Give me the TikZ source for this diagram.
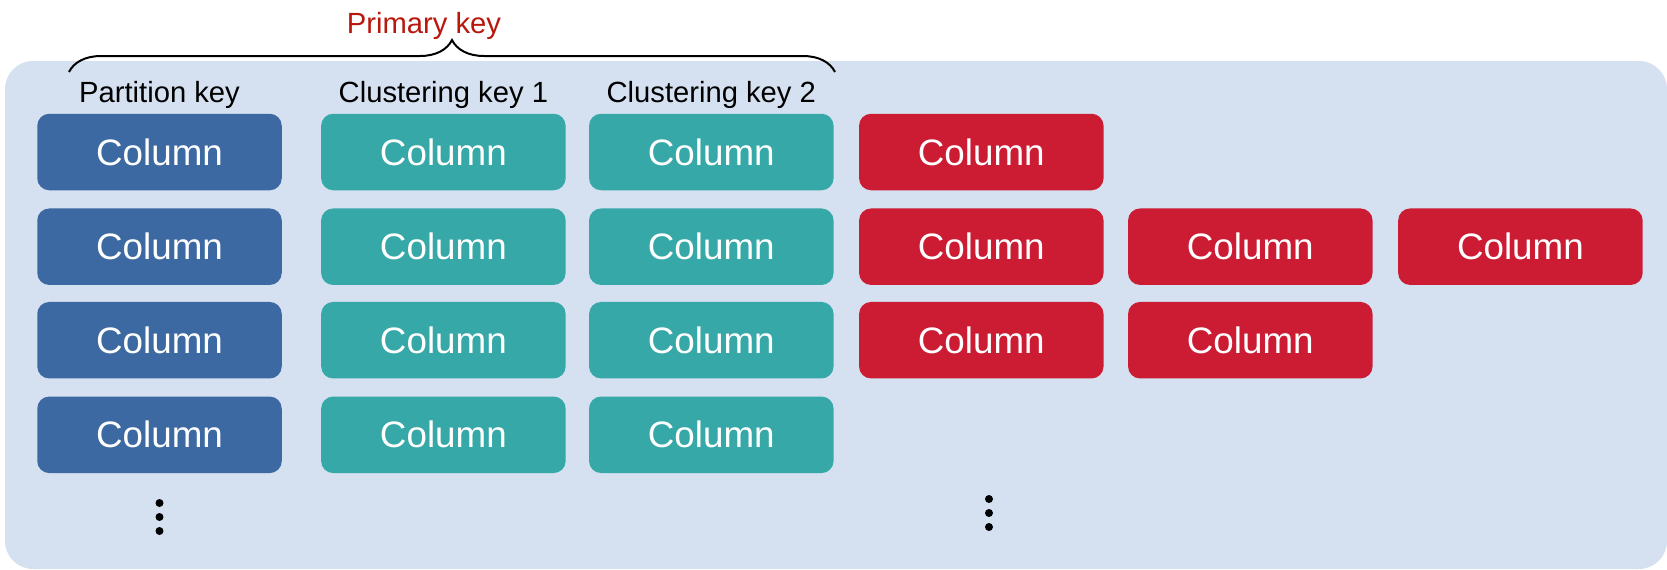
\documentclass[tikz,border=0pt]{standalone}
\usepackage{fontspec}
\setmainfont{Liberation Sans}
\usetikzlibrary{decorations.pathreplacing}
\definecolor{panelblue}{HTML}{D5E1F0}
\definecolor{partblue}{HTML}{3C69A1}
\definecolor{clustteal}{HTML}{37A8A8}
\definecolor{regred}{HTML}{CC1C34}
\definecolor{keyred}{HTML}{B8170D}

\begin{document}
\begin{tikzpicture}[x=0.5pt, y=-0.5pt,
  col/.style = {shape=rectangle, rounded corners=6pt, text=white,
    minimum width=122.25pt, minimum height=38.25pt, inner sep=0pt,
    font=\fontsize{18.4}{22}\selectfont},
  partcol/.style = {col, fill=partblue},
  clustcol/.style = {col, fill=clustteal},
  regcol/.style = {col, fill=regred},
  head/.style = {anchor=base, font=\fontsize{14.6}{17}\selectfont},
  more/.style = {fill=black}]
  \useasboundingbox (0,0) rectangle (1667,569);
  \fill[panelblue, rounded corners=14pt] (5,61) rectangle (1667,569);

  % key headers
  \node[head, text=keyred] (primary) at (424,33) {Primary key};
  \node[head] (partlabel) at (159.5,102) {Partition key};
  \node[head] (clustlabela) at (443.4,102) {Clustering key 1};
  \node[head] (clustlabelb) at (711.3,102) {Clustering key 2};
  \coordinate (braceL) at (69,72);
  \coordinate (braceR) at (835,72);
  \draw[line width=1pt, decorate, decoration={brace, amplitude=16pt}]
    (braceL) -- (braceR);

  % partition key
  \node[partcol] (part1) at (159.5,152) {Column};
  \node[partcol] (part2) at (159.5,246.7) {Column};
  \node[partcol] (part3) at (159.5,340.2) {Column};
  \node[partcol] (part4) at (159.5,434.8) {Column};
  % clustering keys
  \node[clustcol] (clusta1) at (443.4,152) {Column};
  \node[clustcol] (clusta2) at (443.4,246.7) {Column};
  \node[clustcol] (clusta3) at (443.4,340.2) {Column};
  \node[clustcol] (clusta4) at (443.4,434.8) {Column};
  \node[clustcol] (clustb1) at (711.3,152) {Column};
  \node[clustcol] (clustb2) at (711.3,246.7) {Column};
  \node[clustcol] (clustb3) at (711.3,340.2) {Column};
  \node[clustcol] (clustb4) at (711.3,434.8) {Column};
  % regular columns
  \node[regcol] (reg11) at (981.3,152) {Column};
  \node[regcol] (reg21) at (981.3,246.7) {Column};
  \node[regcol] (reg22) at (1250.3,246.7) {Column};
  \node[regcol] (reg23) at (1520.4,246.7) {Column};
  \node[regcol] (reg31) at (981.3,340.2) {Column};
  \node[regcol] (reg32) at (1250.3,340.2) {Column};

  % more rows
  \fill[more] (159.5,503) circle (4) (159.5,517) circle (4) (159.5,531) circle (4);
  \fill[more] (989,499) circle (4) (989,513) circle (4) (989,527) circle (4);
\end{tikzpicture}
\end{document}
